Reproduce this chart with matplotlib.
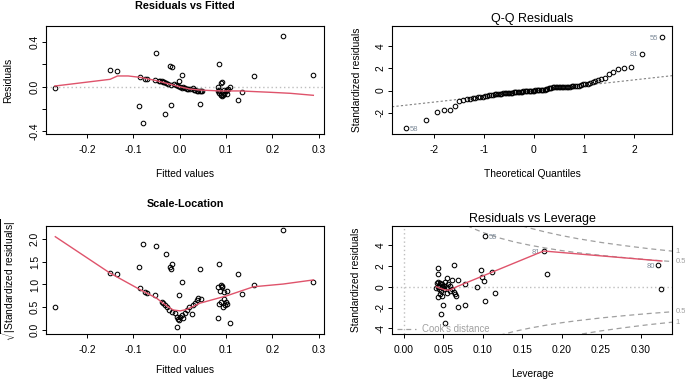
import matplotlib
matplotlib.use('Agg')
import matplotlib.pyplot as plt

plt.rcParams['font.family'] = ['Liberation Sans', 'DejaVu Sans']
plt.rcParams['axes.unicode_minus'] = False
plt.rcParams['mathtext.fontset'] = 'custom'
plt.rcParams['mathtext.rm'] = 'Liberation Sans'

# --- Residuals vs Fitted ---
rf_fitted = [-0.269, -0.150, -0.136, -0.088, -0.086, -0.080, -0.074, -0.071, -0.050, -0.053,
             -0.031, -0.021, -0.017, -0.019, 0.004, -0.002,
             -0.045, -0.042, -0.039, -0.036, -0.034, -0.030, -0.025, -0.019, -0.012, -0.008,
             -0.004, 0.001, 0.006, 0.011, 0.015, 0.019,
             0.008, 0.022, 0.028, 0.030, 0.033, 0.038, 0.040, 0.044, 0.046, 0.048, 0.044,
             0.085, 0.092, 0.090, 0.082, 0.082, 0.085, 0.088, 0.090, 0.092, 0.094, 0.095, 0.095,
             0.099, 0.102, 0.105, 0.108, 0.101, 0.085,
             0.135, 0.126, 0.160, 0.223, 0.288]
rf_resid = [-0.012, 0.149, 0.140, -0.173, 0.090, -0.322, 0.072, 0.072, 0.299, 0.060,
            -0.247, 0.183, 0.174, -0.161, 0.105, 0.054,
            0.055, 0.050, 0.048, 0.043, 0.039, 0.033, 0.027, 0.018, 0.021, 0.012,
            0.006, 0.000, -0.009, -0.015, -0.021, -0.024,
            -0.003, -0.024, -0.009, -0.030, -0.027, -0.038, -0.040, -0.038, -0.040, -0.036, -0.155,
            0.200, 0.045, 0.030, 0.000, -0.038, -0.060, -0.074, -0.075, -0.080, -0.070, -0.065, -0.030,
            -0.042, -0.030, -0.018, -0.003, -0.065, -0.030,
            -0.045, -0.119, 0.098, 0.454, 0.107]
rf_smooth_x = [-0.269, -0.150, -0.134, -0.111, -0.086, -0.053, -0.028, 0.0, 0.022, 0.044,
               0.087, 0.130, 0.195, 0.238, 0.288]
rf_smooth_y = [0.006, 0.066, 0.096, 0.096, 0.084, 0.057, 0.030, 0.0, -0.021, -0.030,
               -0.038, -0.038, -0.050, -0.059, -0.077]

# --- Q-Q Residuals ---
qq_theo = [-2.557, -2.149, -1.938, -1.789, -1.671, -1.573, -1.488, -1.412, -1.344, -1.282,
           -1.224, -1.170, -1.119, -1.071, -1.025, -0.981, -0.939, -0.899, -0.861, -0.823,
           -0.786, -0.751, -0.716, -0.683, -0.650, -0.617, -0.586, -0.555, -0.524, -0.494,
           -0.465, -0.436, -0.407, -0.378, -0.350, -0.322, -0.294, -0.267, -0.240, -0.213,
           -0.186, -0.159, -0.132, -0.106, -0.079, -0.053, -0.026, 0.0,
           0.026, 0.053, 0.079, 0.106, 0.132, 0.159, 0.186, 0.213, 0.240, 0.267,
           0.294, 0.322, 0.350, 0.378, 0.407, 0.436, 0.465, 0.494, 0.524, 0.555,
           0.586, 0.617, 0.650, 0.683, 0.716, 0.751, 0.786, 0.823, 0.861, 0.899,
           0.939, 0.981, 1.025, 1.071, 1.119, 1.170, 1.224, 1.282, 1.344, 1.412,
           1.488, 1.573, 1.671, 1.789, 1.938, 2.149, 2.557]
qq_sample = [-3.38, -2.65, -1.92, -1.76, -1.75, -1.41, -0.90, -0.83, -0.80, -0.76,
             -0.70, -0.66, -0.62, -0.58, -0.55, -0.50, -0.46, -0.42, -0.40, -0.38,
             -0.35, -0.33, -0.31, -0.29, -0.28, -0.26, -0.24, -0.23, -0.22, -0.20,
             -0.19, -0.18, -0.16, -0.15, -0.14, -0.12, -0.11, -0.10, -0.09, -0.08,
             -0.07, -0.06, -0.05, -0.04, -0.03, -0.02, -0.01, 0.0,
             0.01, 0.02, 0.02, 0.03, 0.04, 0.05, 0.06, 0.08, 0.12, 0.16,
             0.20, 0.23, 0.25, 0.27, 0.29, 0.30, 0.31, 0.32, 0.32, 0.33,
             0.33, 0.33, 0.34, 0.34, 0.35, 0.36, 0.38, 0.40, 0.42, 0.44,
             0.48, 0.55, 0.58, 0.62, 0.66, 0.72, 0.82, 0.95, 1.05, 1.12,
             1.50, 1.66, 1.92, 2.03, 2.12, 3.30, 4.80]
qq_line_x = [-2.73, 2.73]
qq_line_y = [-1.41, 1.32]
qq_ids = ['58', '81', '55']
qq_id_x = [-2.557, 2.149, 2.557]
qq_id_y = [-3.38, 3.30, 4.80]

# --- Scale-Location ---
sl_fitted = [-0.268, -0.150, -0.136, -0.087, -0.080, -0.086, -0.075, -0.071, -0.050, -0.053,
             -0.030, -0.021, -0.019, -0.017, 0.004, -0.002, 0.044, 0.085, 0.090, 0.092,
             0.082, 0.108, 0.125, 0.135, 0.160, 0.222, 0.287,
             -0.039, -0.035, -0.032, -0.028, -0.022, -0.017, -0.010, -0.006, -0.004, -0.002,
             0.001, 0.004, -0.006, 0.008, 0.011, 0.016, 0.021, 0.026, 0.029, 0.033,
             0.037, 0.040, 0.045,
             0.083, 0.087, 0.091, 0.095, 0.101, 0.085, 0.090, 0.095, 0.100, 0.093, 0.103, 0.098]
sl_sqrt = [0.51, 1.26, 1.22, 1.39, 1.90, 0.92, 0.835, 0.82, 1.85, 0.76,
           1.67, 1.39, 1.33, 1.46, 1.05, 0.76, 1.34, 1.44, 0.98, 0.95,
           0.27, 0.16, 1.22, 0.80, 0.99, 2.20, 1.05,
           0.62, 0.59, 0.55, 0.50, 0.44, 0.40, 0.37, 0.29, 0.25, 0.22,
           0.28, 0.33, 0.06, 0.27, 0.37, 0.44, 0.50, 0.35, 0.55, 0.60,
           0.66, 0.70, 0.69,
           0.95, 0.86, 0.97, 0.84, 0.86, 0.57, 0.62, 0.67, 0.62, 0.50, 0.57, 0.55]
sl_smooth_x = [-0.268, -0.150, -0.086, -0.050, -0.028, -0.014, 0.001, 0.015, 0.044, 0.101,
               0.159, 0.223, 0.288]
sl_smooth_y = [2.05, 1.25, 0.89, 0.70, 0.53, 0.44, 0.42, 0.45, 0.59, 0.75,
               0.95, 1.01, 1.10]

# --- Residuals vs Leverage ---
lev_h = [0.103, 0.0436, 0.0436, 0.063, 0.054, 0.061, 0.068, 0.077, 0.092, 0.098,
         0.099, 0.102, 0.112, 0.115, 0.103, 0.077, 0.068, 0.0495, 0.047, 0.052,
         0.0415, 0.0436, 0.046, 0.0486, 0.043, 0.0406, 0.0444, 0.047, 0.0503, 0.051,
         0.054, 0.0563, 0.058, 0.0605, 0.063, 0.0647, 0.066, 0.0457, 0.0486, 0.0436,
         0.0546, 0.058, 0.052, 0.045, 0.048,
         0.182, 0.177, 0.322, 0.326]
lev_r = [4.86, 1.82, 1.19, 2.08, 0.80, 0.64, 0.64, 0.26, -0.06, 1.60,
         0.96, 0.58, 1.44, -0.58, -1.37, -1.75, -1.98, -1.75, -2.65, -3.45,
         0.33, 0.48, 0.38, 0.26, 0.0, -0.09, -0.19, -0.38, 0.07, -0.22,
         -0.06, 0.23, -0.38, -0.19, -0.48, -0.70, -0.89, -0.70, -0.89, -1.02,
         -0.64, 0.10, 0.45, 0.13, -0.06,
         1.19, 3.40, 2.08, -0.19]
lev_smooth_x = [0.041, 0.046, 0.052, 0.058, 0.067, 0.177, 0.327]
lev_smooth_y = [0.0, -0.16, -0.32, -0.32, 0.0, 3.42, 2.46]
lev_ids = ['55', '81', '80']
lev_id_x = [0.103, 0.177, 0.322]
lev_id_y = [4.86, 3.40, 2.08]

# Cook's distance contours
cook05_h = [0.080, 0.090, 0.100, 0.120, 0.140, 0.160, 0.180, 0.200, 0.220, 0.250, 0.280, 0.310, 0.340]
cook05_up = [5.86, 5.51, 5.20, 4.69, 4.29, 3.97, 3.70, 3.46, 3.26, 3.00, 2.78, 2.58, 2.41]
cook05_lo = [-5.86, -5.51, -5.20, -4.69, -4.29, -3.97, -3.70, -3.46, -3.26, -3.00, -2.78, -2.58, -2.41]
cook1_h = [0.150, 0.160, 0.180, 0.200, 0.220, 0.250, 0.280, 0.310, 0.340]
cook1_up = [5.83, 5.61, 5.23, 4.90, 4.61, 4.24, 3.93, 3.65, 3.41]
cook1_lo = [-5.83, -5.61, -5.23, -4.90, -4.61, -4.24, -3.93, -3.65, -3.41]

red = '#DF536B'
grey = '#BEBEBE'
cookgrey = '#A0A0A0'
idcol = '#7F8C9A'
dotted = (0, (1, 2))
fs_tick = 7.4

fig = plt.figure(figsize=(6.85, 3.8), dpi=100)
ax1 = fig.add_axes([0.0672, 0.6474, 0.4058, 0.2842])
ax2 = fig.add_axes([0.5723, 0.6474, 0.4088, 0.2842])
ax3 = fig.add_axes([0.0672, 0.1211, 0.4058, 0.2842])
ax4 = fig.add_axes([0.5723, 0.1211, 0.4088, 0.2842])


def style(ax, xlab, ylab, xl_y, yl_x):
    for s in ax.spines.values():
        s.set_linewidth(0.8)
    ax.tick_params(direction='out', length=3, width=0.7, labelsize=fs_tick)
    ax.tick_params(axis='x', pad=5)
    ax.tick_params(axis='y', pad=1.5)
    for lab in ax.get_yticklabels():
        lab.set_rotation(90)
        lab.set_va('center')
    ax.set_xlabel(xlab, fontsize=fs_tick, va='center')
    ax.set_ylabel(ylab, fontsize=fs_tick, va='center')
    ax.xaxis.set_label_coords(0.5, xl_y)
    ax.yaxis.set_label_coords(yl_x, 0.5)


def points(ax, x, y):
    ax.plot(x, y, 'o', mfc='none', mec='black', ms=3.3, mew=0.75, zorder=3)


# Residuals vs Fitted
ax1.axhline(0, color=grey, ls=dotted, lw=1)
points(ax1, rf_fitted, rf_resid)
ax1.plot(rf_smooth_x, rf_smooth_y, color=red, lw=1, zorder=4)
ax1.set_xlim(-0.288, 0.311)
ax1.set_ylim(-0.423, 0.543)
ax1.set_xticks([-0.2, -0.1, 0.0, 0.1, 0.2, 0.3])
ax1.set_xticklabels(['-0.2', '-0.1', '0.0', '0.1', '0.2', '0.3'])
ax1.set_yticks([-0.4, -0.2, 0.0, 0.2, 0.4])
ax1.set_yticklabels(['-0.4', '', '0.0', '', '0.4'])
style(ax1, 'Fitted values', 'Residuals', -0.37, -0.137)
fig.text(0.27, 1 - 6 / 380, 'Residuals vs Fitted', ha='center', va='center',
         fontsize=7.8, fontweight='bold')

# Q-Q Residuals
ax2.axline((qq_line_x[0], qq_line_y[0]), (qq_line_x[1], qq_line_y[1]),
           color='#808080', ls=(0, (2, 2)), lw=0.8)
points(ax2, qq_theo, qq_sample)
for t, x, y in zip(qq_ids, qq_id_x, qq_id_y):
    if x < 0:
        ax2.text(x + 0.08, y - 0.15, t, fontsize=5.5, color=idcol, ha='left', va='center')
    else:
        ax2.text(x - 0.08, y - 0.1, t, fontsize=5.5, color=idcol, ha='right', va='center')
ax2.set_xlim(-2.83, 2.755)
ax2.set_ylim(-3.91, 5.80)
ax2.set_xticks([-2, -1, 0, 1, 2])
ax2.set_yticks([-2, 0, 2, 4])
style(ax2, 'Theoretical Quantiles', 'Standardized residuals', -0.37, -0.126)
ax2.set_title('Q-Q Residuals', fontsize=9, pad=3)

# Scale-Location
points(ax3, sl_fitted, sl_sqrt)
ax3.plot(sl_smooth_x, sl_smooth_y, color=red, lw=1, zorder=4)
ax3.set_xlim(-0.288, 0.311)
ax3.set_ylim(-0.088, 2.286)
ax3.set_xticks([-0.2, -0.1, 0.0, 0.1, 0.2, 0.3])
ax3.set_xticklabels(['-0.2', '-0.1', '0.0', '0.1', '0.2', '0.3'])
ax3.set_yticks([0.0, 0.5, 1.0, 1.5, 2.0])
ax3.set_yticklabels(['0.0', '0.5', '1.0', '1.5', '2.0'])
style(ax3, 'Fitted values', r'$\sqrt{|\mathrm{Standardized\ residuals}|}$', -0.33, -0.135)
fig.text(0.27, 1 - 204 / 380, 'Scale-Location', ha='center', va='center',
         fontsize=7.8, fontweight='bold')

# Residuals vs Leverage
ax4.axhline(0, color=grey, ls=dotted, lw=1)
ax4.axvline(0, color=grey, ls=dotted, lw=1)
for hh, yy in [(cook05_h, cook05_up), (cook05_h, cook05_lo), (cook1_h, cook1_up), (cook1_h, cook1_lo)]:
    ax4.plot(hh, yy, color=cookgrey, ls=(0, (4, 3)), lw=0.9)
points(ax4, lev_h, lev_r)
ax4.plot(lev_smooth_x, lev_smooth_y, color=red, lw=1, zorder=4)
ax4.text(lev_id_x[0] + 0.004, lev_id_y[0] - 0.1, lev_ids[0], fontsize=5.5, color=idcol,
         ha='left', va='center')
for t, x, y in zip(lev_ids[1:], lev_id_x[1:], lev_id_y[1:]):
    ax4.text(x - 0.004, y - 0.1, t, fontsize=5.5, color=idcol, ha='right', va='center')
for lab, y in [('1', 3.41), ('0.5', 2.41), ('0.5', -2.41), ('1', -3.41)]:
    ax4.text(0.3445, y, lab, fontsize=5.5, color=cookgrey, ha='left', va='center',
             clip_on=False)
ax4.plot([-0.009, 0.0155], [-4.09, -4.09], color=cookgrey, ls=(0, (4, 3)), lw=0.9)
ax4.text(0.0225, -4.09, "Cook's distance", fontsize=6.9, color=cookgrey, va='center')
ax4.set_xlim(-0.0152, 0.340)
ax4.set_ylim(-4.54, 5.82)
ax4.set_xticks([0.0, 0.05, 0.10, 0.15, 0.20, 0.25, 0.30])
ax4.set_xticklabels(['0.00', '0.05', '0.10', '0.15', '0.20', '0.25', '0.30'])
ax4.set_yticks([-4, -2, 0, 2, 4])
style(ax4, 'Leverage', 'Standardized residuals', -0.37, -0.129)
ax4.set_title('Residuals vs Leverage', fontsize=9, pad=3)

fig.savefig('out.png', dpi=100)
